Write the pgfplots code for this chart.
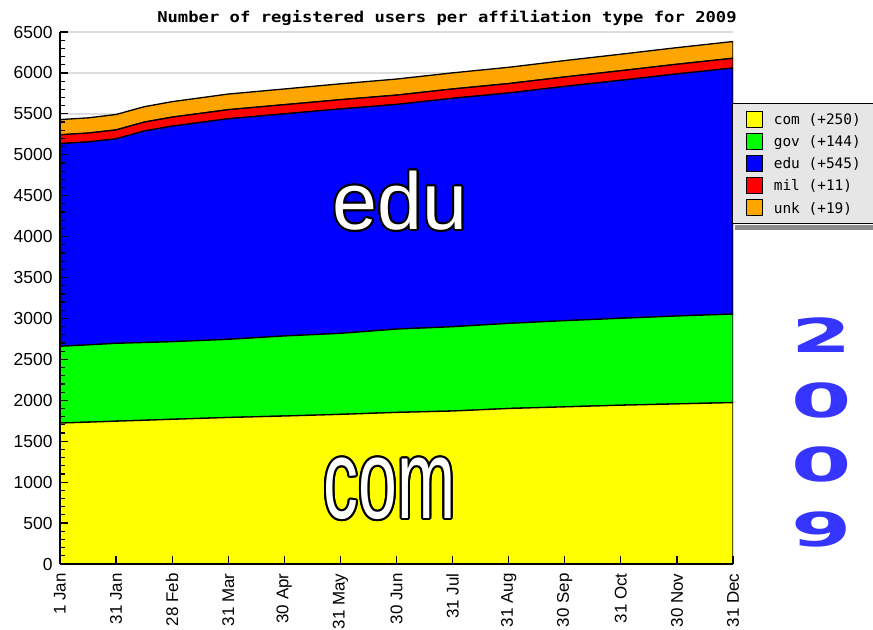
\documentclass[border=0pt]{standalone}
\usepackage{fontspec}
\setmainfont{Liberation Sans}
\newfontfamily\monof{DejaVu Sans Mono}
\newfontfamily\dejavu{DejaVu Sans}
\usepackage{graphicx}
\usepackage{pgfplots}
\pgfplotsset{compat=1.18}
\usepackage{pgfplotstable}
\usetikzlibrary{calc}

\definecolor{comyel}{HTML}{FFFF00}
\definecolor{govgreen}{HTML}{00FF00}
\definecolor{edublue}{HTML}{0000FF}
\definecolor{milred}{HTML}{FF0000}
\definecolor{unkorange}{HTML}{FFA500}
\definecolor{legbg}{HTML}{E6E6E6}
\definecolor{gridgray}{HTML}{DDDDDD}
\definecolor{yearblue}{HTML}{3535FF}

\pgfplotsset{frame/.style={scale only axis, width=673bp, height=532bp,
  xmin=0, xmax=12, ymin=0, ymax=6500}}

% registered users (0 = 1 Jan ... 12 = 31 Dec, month ends in between)
\pgfplotstableread{
m   com  gov  edu  mil unk
0   1722 938  2476 108 186
0.5 1733 944  2480 108 186
1   1745 951  2499 109 188
1.5 1756 950  2584 109 188
2   1768 948  2634 110 189
3   1790 955  2695 111 191
4   1808 978  2714 112 192
5   1828 990  2742 113 194
6   1852 1018 2745 114 196
7   1869 1030 2791 114 197
8   1900 1040 2815 115 199
9   1920 1053 2862 116 200
10  1940 1062 2908 117 202
11  1956 1074 2958 118 203
12  1972 1082 3006 119 205
}\users

\newcommand{\outlined}[2]{%
  \foreach \a in {0,30,...,330}
    \node[black,inner sep=0pt] at ($(#1)+(\a:2.2bp)$) {#2};
  \node[white,inner sep=0pt] at (#1) {#2};}

\begin{document}
\begin{tikzpicture}
% grid only, under the areas
\begin{axis}[frame, axis lines*=left, axis line style={draw=none},
  xtick=\empty, ytick={500,1000,...,6500}, yticklabels={}, major tick length=0pt,
  ymajorgrids, grid style={gridgray,line width=1.5bp}]
\end{axis}

\begin{axis}[name=ax, frame,
  stack plots=y, axis on top,
  axis lines*=left,
  axis line style={black,line width=1.5bp},
  tick style={black,line width=1.2bp},
  tick align=inside, major tick length=8bp, minor tick length=5bp,
  xtick={0,...,12},
  xticklabels={1 Jan,31 Jan,28 Feb,31 Mar,30 Apr,31 May,30 Jun,31 Jul,31 Aug,30 Sep,31 Oct,30 Nov,31 Dec},
  ytick={0,500,...,6500}, minor y tick num=4,
  scaled y ticks=false,
  /pgf/number format/1000 sep={},
  /pgf/number format/assume math mode=true,
  xticklabel style={yshift=-6bp, rotate=90, anchor=east, font=\fontsize{17}{17}\selectfont},
  yticklabel style={font=\fontsize{17.5}{17.5}\selectfont, xshift=-4bp},
  legend image code/.code={\draw[#1,draw=black,line width=1bp] (0bp,-7.5bp) rectangle (16bp,8.5bp);},
  legend cell align=left,
  legend style={name=leg, at={(0.999,0.8665)}, anchor=north west, fill=legbg, draw=black, line width=1bp,
    font=\monof\fontsize{14.5}{16}\selectfont, row sep=5bp, column sep=9bp,
    inner xsep=13bp, inner ysep=7bp},
  legend entries={com (+250)\hspace*{20bp},gov (+144),edu (+545),mil (+11),unk (+19)},
]
\addplot[fill=comyel,draw=black,line width=1.3bp] table[x=m,y=com]{\users} \closedcycle;
\addplot[fill=govgreen,draw=black,line width=1.3bp] table[x=m,y=gov]{\users} \closedcycle;
\addplot[fill=edublue,draw=black,line width=1.3bp] table[x=m,y=edu]{\users} \closedcycle;
\addplot[fill=milred,draw=black,line width=1.3bp] table[x=m,y=mil]{\users} \closedcycle;
\addplot[fill=unkorange,draw=black,line width=1.3bp] table[x=m,y=unk]{\users} \closedcycle;
\end{axis}

% shadow under the legend box
\fill[black!45] ($(leg.south west)+(3bp,-0.5bp)$) rectangle ($(leg.south east)+(3bp,-6bp)$);

\begin{scope}[shift={(ax.south west)}, x=1bp, y=1bp]
  \node[anchor=base,inner sep=0pt] at (387,541)
    {\scalebox{1.15}[1]{\monof\bfseries\fontsize{15}{15}\selectfont Number of registered users per affiliation type for 2009}};
  \outlined{340,363.5}{\fontsize{81}{81}\selectfont edu}
  \outlined{329.5,75.5}{\scalebox{0.62}[1]{\fontsize{113}{113}\selectfont com}}
  \foreach \d/\yy in {2/229,0/164,0/100,9/35}
    \node[text=yearblue,inner sep=0pt] at (762,\yy)
      {\scalebox{1.85}[1]{\dejavu\bfseries\fontsize{47}{47}\selectfont \d}};
\end{scope}

\pgfresetboundingbox
\path[use as bounding box] ($(ax.south west)+(-60bp,-66bp)$) rectangle ($(ax.south west)+(813bp,564bp)$);
\end{tikzpicture}
\end{document}
